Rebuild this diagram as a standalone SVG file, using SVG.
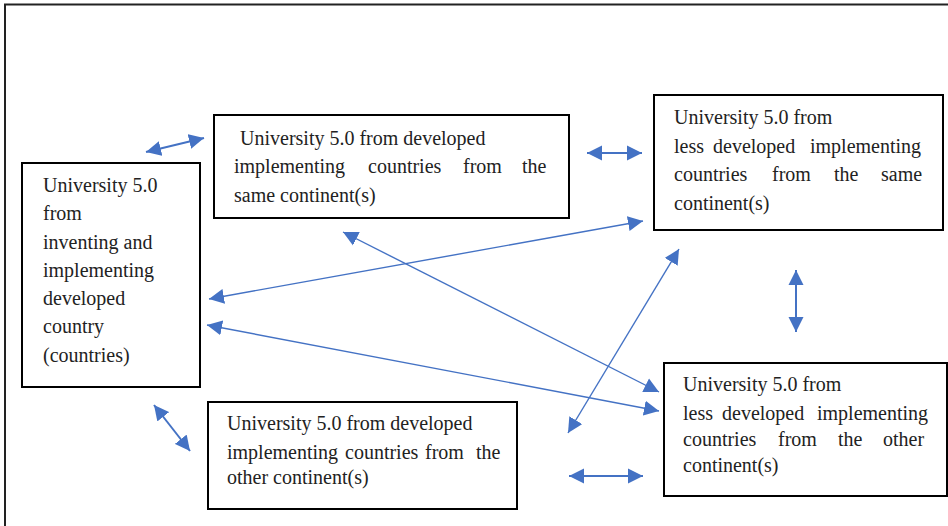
<svg xmlns="http://www.w3.org/2000/svg" width="948" height="526" viewBox="0 0 948 526">
  <style>
    .frame { fill: none; stroke: #222; stroke-width: 2; }
    .box { fill: #fff; stroke: #000; stroke-width: 2; }
    .label { font-family: "Liberation Serif", "Times New Roman", "DejaVu Serif", serif; font-size: 20px; fill: #222; }
    .link { fill: none; stroke: #4472C4; stroke-width: 1.4; }
    .link.short { stroke-width: 2; }
  </style>
  <defs>
    <marker id="head" markerUnits="userSpaceOnUse" markerWidth="16" markerHeight="16" viewBox="0 0 16 16" refX="15" refY="8" orient="auto-start-reverse">
      <path d="M0,0.5 L15,8 L0,15.5 z" fill="#4472C4"/>
    </marker>
  </defs>

  <rect class="frame" x="5" y="4.5" width="960" height="540"/>

  <g id="connectors">
    <line class="link short" x1="146" y1="152" x2="204" y2="138" marker-start="url(#head)" marker-end="url(#head)"/>
    <line class="link short" x1="587" y1="153" x2="642" y2="153" marker-start="url(#head)" marker-end="url(#head)"/>
    <line class="link short" x1="796" y1="270" x2="796" y2="332" marker-start="url(#head)" marker-end="url(#head)"/>
    <line class="link short" x1="569" y1="476" x2="643" y2="476" marker-start="url(#head)" marker-end="url(#head)"/>
    <line class="link short" x1="154" y1="405" x2="190" y2="451" marker-start="url(#head)" marker-end="url(#head)"/>
    <line class="link" x1="643" y1="221" x2="209" y2="299" marker-start="url(#head)" marker-end="url(#head)"/>
    <line class="link" x1="659" y1="411" x2="207" y2="325" marker-start="url(#head)" marker-end="url(#head)"/>
    <line class="link" x1="659" y1="392" x2="343" y2="232" marker-start="url(#head)" marker-end="url(#head)"/>
    <line class="link" x1="568" y1="433" x2="679" y2="249" marker-start="url(#head)" marker-end="url(#head)"/>
  </g>

  <g id="node-inventing">
    <rect class="box" x="22" y="163" width="178" height="224"/>
    <text class="label" x="43" y="192">University 5.0</text>
    <text class="label" x="43" y="220">from</text>
    <text class="label" x="43" y="249">inventing and</text>
    <text class="label" x="43" y="277">implementing</text>
    <text class="label" x="43" y="305">developed</text>
    <text class="label" x="43" y="333">country</text>
    <text class="label" x="43" y="362">(countries)</text>
  </g>

  <g id="node-developed-same">
    <rect class="box" x="214" y="115" width="355" height="103"/>
    <text class="label" x="240" y="145">University 5.0 from developed</text>
    <text class="label" y="173"><tspan x="234">implementing</tspan> <tspan x="368">countries</tspan> <tspan x="463">from</tspan> <tspan x="522">the</tspan></text>
    <text class="label" x="234" y="202">same continent(s)</text>
  </g>

  <g id="node-less-same">
    <rect class="box" x="654" y="95" width="289" height="135"/>
    <text class="label" x="674" y="124">University 5.0 from</text>
    <text class="label" y="153"><tspan x="674">less</tspan> <tspan x="713">developed</tspan> <tspan x="810">implementing</tspan></text>
    <text class="label" y="181"><tspan x="674">countries</tspan> <tspan x="772">from</tspan> <tspan x="834">the</tspan> <tspan x="881">same</tspan></text>
    <text class="label" x="674" y="210">continent(s)</text>
  </g>

  <g id="node-less-other">
    <rect class="box" x="664" y="363" width="283" height="133"/>
    <text class="label" x="683" y="391">University 5.0 from</text>
    <text class="label" y="420"><tspan x="683">less</tspan> <tspan x="722">developed</tspan> <tspan x="817">implementing</tspan></text>
    <text class="label" y="446"><tspan x="683">countries</tspan> <tspan x="778">from</tspan> <tspan x="838">the</tspan> <tspan x="883">other</tspan></text>
    <text class="label" x="683" y="472">continent(s)</text>
  </g>

  <g id="node-developed-other">
    <rect class="box" x="208" y="402" width="309" height="107"/>
    <text class="label" x="227" y="430">University 5.0 from developed</text>
    <text class="label" y="459"><tspan x="227">implementing</tspan> <tspan x="345">countries</tspan> <tspan x="425">from</tspan> <tspan x="476">the</tspan></text>
    <text class="label" x="227" y="484">other continent(s)</text>
  </g>
</svg>
